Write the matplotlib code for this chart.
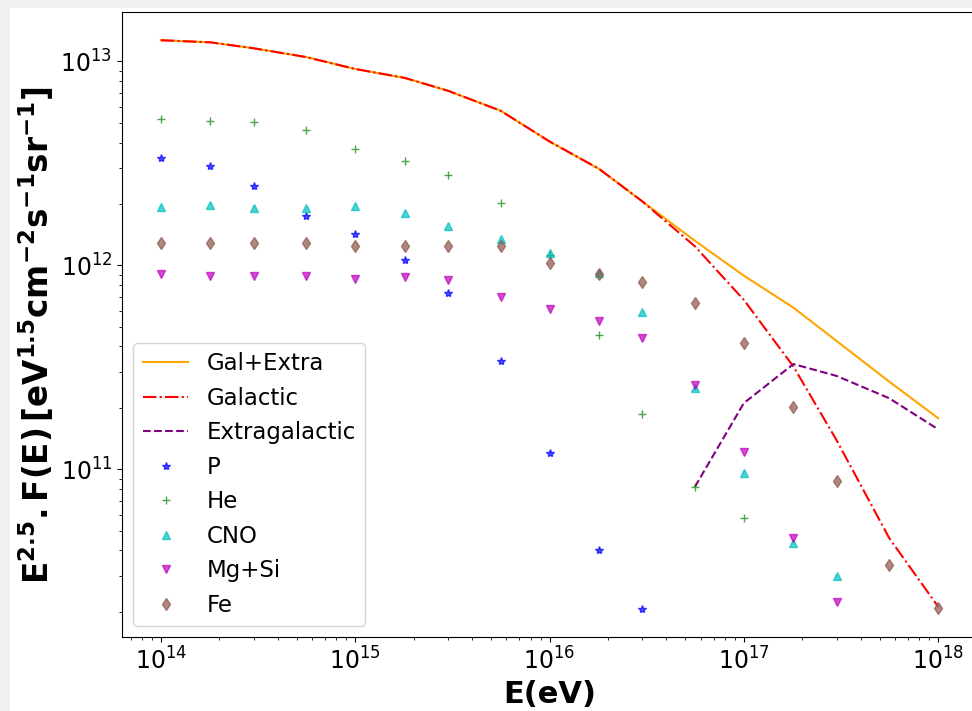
import matplotlib
matplotlib.use("Agg")
import matplotlib.pyplot as plt
from matplotlib.patches import Rectangle

# Energy grid (eV)
energy = [1e14, 1.8e14, 3e14, 5.6e14, 1e15, 1.8e15, 3e15, 5.6e15,
          1e16, 1.8e16, 3e16, 5.6e16, 1e17, 1.8e17, 3e17, 5.6e17, 1e18]

# E^2.5 F(E) for the summed components
gal_extra = [1.27e13, 1.24e13, 1.16e13, 1.05e13, 9.18e12, 8.30e12, 7.18e12, 5.73e12,
             4.05e12, 2.97e12, 2.06e12, 1.32e12, 8.9e11, 6.2e11, 4.26e11, 2.69e11, 1.78e11]
galactic = [1.27e13, 1.24e13, 1.16e13, 1.05e13, 9.18e12, 8.30e12, 7.18e12, 5.73e12,
            4.05e12, 2.97e12, 2.06e12, 1.24e12, 6.77e11, 3.19e11, 1.39e11, 4.6e10, 2.12e10]
extragalactic = [8.2e10, 2.11e11, 3.28e11, 2.87e11, 2.23e11, 1.57e11]

# individual mass groups
flux_p = [3.36e12, 3.08e12, 2.46e12, 1.75e12, 1.43e12, 1.06e12, 7.3e11, 3.4e11,
          1.2e11, 4.02e10, 2.07e10]
flux_he = [5.23e12, 5.13e12, 5.04e12, 4.6e12, 3.7e12, 3.26e12, 2.77e12, 2.03e12,
           1.12e12, 4.56e11, 1.87e11, 8.15e10, 5.77e10]
flux_cno = [1.94e12, 1.98e12, 1.91e12, 1.91e12, 1.95e12, 1.8e12, 1.56e12, 1.35e12,
            1.15e12, 9.16e11, 5.88e11, 2.51e11, 9.55e10, 4.33e10, 3.0e10]
flux_mgsi = [9.08e11, 8.91e11, 8.91e11, 8.91e11, 8.55e11, 8.75e11, 8.49e11, 7.03e11,
             6.1e11, 5.36e11, 4.39e11, 2.59e11, 1.21e11, 4.6e10, 2.24e10]
flux_fe = [1.29e12, 1.29e12, 1.28e12, 1.28e12, 1.25e12, 1.25e12, 1.24e12, 1.24e12,
           1.03e12, 9.08e11, 8.27e11, 6.53e11, 4.15e11, 2.03e11, 8.77e10, 3.39e10, 2.08e10]

fig = plt.figure(figsize=(9.72, 7.11), dpi=100)
fig.patch.set_facecolor("#f0f0f0")
fig.patches.append(Rectangle((10 / 972, 0), 1, 1 - 8 / 711, transform=fig.transFigure,
                             facecolor="white", edgecolor="none", zorder=-1))

ax = fig.add_axes([122 / 972, 1 - 637.2 / 711, 855 / 972, 625.4 / 711])

ax.plot(energy, gal_extra, color="orange", label="Gal+Extra")
ax.plot(energy, galactic, color="red", linestyle="-.", label="Galactic")
ax.plot(energy[11:], extragalactic, color="purple", linestyle="--", label="Extragalactic")

ax.plot(energy[:len(flux_p)], flux_p, "*", color="blue", alpha=0.7, label="P")
ax.plot(energy[:len(flux_he)], flux_he, "+", color="green", alpha=0.7, label="He")
ax.plot(energy[:len(flux_cno)], flux_cno, "^", color="c", alpha=0.7, label="CNO")
ax.plot(energy[:len(flux_mgsi)], flux_mgsi, "v", color="m", alpha=0.7, label="Mg+Si")
ax.plot(energy, flux_fe, "d", color="tab:brown", alpha=0.7, label="Fe")

ax.set_xscale("log")
ax.set_yscale("log")
ax.tick_params(labelsize=17)
ax.set_xlabel("E(eV)", fontsize=22, fontweight="bold")
ax.set_ylabel(r"$\mathbf{E^{2.5}.F(E)\,[eV^{1.5}cm^{-2}s^{-1}sr^{-1}]}$", fontsize=23.5)
ax.yaxis.set_label_coords(-0.077, 0.483)
ax.legend(loc="lower left", fontsize=16.5)

fig.savefig("out.png", dpi=100, facecolor=fig.get_facecolor())
